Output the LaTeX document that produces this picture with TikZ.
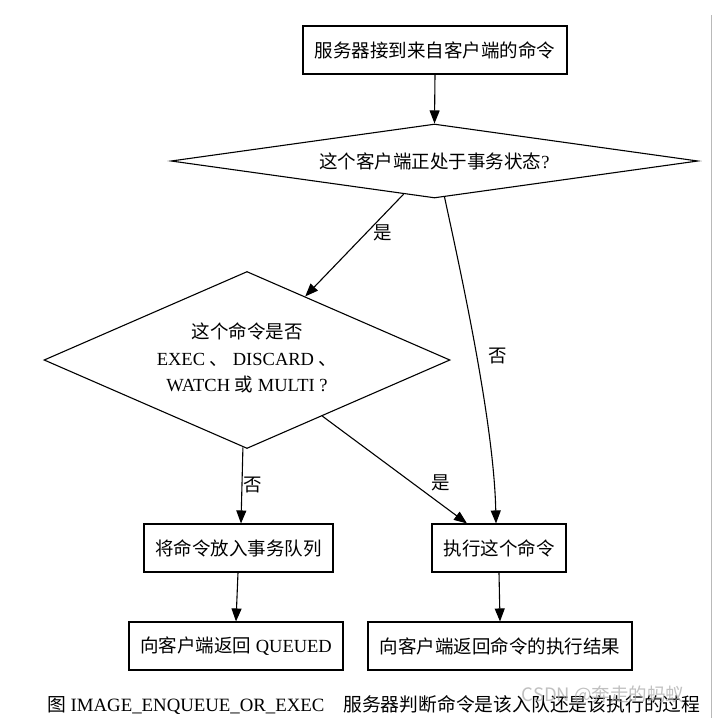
\documentclass[tikz,border=0pt]{standalone}
\usepackage{fontspec}
\setmainfont{Liberation Serif}
\newfontfamily\cjk{Noto Sans CJK SC}
\usetikzlibrary{arrows.meta,shapes.geometric,calc}
\begin{document}
\begin{tikzpicture}[x=1pt,y=-1pt,
  font=\fontsize{18.5}{26.5}\selectfont,
  box/.style={draw, line width=1.1pt, rectangle, inner sep=0pt, minimum height=48pt},
  dia/.style={draw, line width=1.1pt, diamond, inner sep=0pt},
  arr/.style={-{Triangle[length=13pt,width=10pt]}, line width=1.1pt},
  lbl/.style={font=\cjk\fontsize{18.5}{20}\selectfont, inner sep=0pt}]
\fill[white] (0,0) rectangle (713,718);
\useasboundingbox (0,0) rectangle (713,718);
\draw[gray!55, line width=1pt] (711,15) -- (711,718);

\node[box, minimum width=264pt] (start) at (435,50) {\cjk 服务器接到来自客户端的命令};
\node[dia, minimum width=527pt, minimum height=74pt] (d1) at (434.5,161)
  {\makebox[0pt]{{\cjk 这个客户端正处于事务状态}?}};
\node[dia, minimum width=406pt, minimum height=177pt] (d2) at (247,360)
  {\makebox[0pt]{\begin{tabular}{@{}c@{}}{\cjk 这个命令是否}\\ EXEC {\cjk 、} DISCARD {\cjk 、}\\ WATCH {\cjk 或} MULTI ?\end{tabular}}};
\node[box, minimum width=189pt] (q) at (238.5,548) {\cjk 将命令放入事务队列};
\node[box, minimum width=134pt] (e) at (499,548) {\cjk 执行这个命令};
\node[box, minimum width=214pt] (r1) at (236,646) {{\cjk 向客户端返回} QUEUED};
\node[box, minimum width=264pt] (r2) at (500,646) {\cjk 向客户端返回命令的执行结果};

\draw[arr] (start.south) -- (d1.north);
\draw[arr] ($(d1.south)!0.117!(d1.west)$) -- ($(d2.north)!0.286!(d2.east)$)
  node[lbl, pos=0.38, xshift=17pt] {是};
\draw[arr] ($(d1.south)!0.038!(d1.east)$) .. controls (458,260) and (494,420) .. ($(e.north)+(-3,0)$)
  node[lbl, pos=0.53, xshift=21pt] {否};
\draw[arr] ($(d2.south)!0.02!(d2.west)$) -- ($(q.north)+(2.5,0)$)
  node[lbl, midway, xshift=11pt] {否};
\draw[arr] ($(d2.south)!0.37!(d2.east)$) -- ($(e.north)+(-32,0)$)
  node[lbl, pos=0.62, xshift=29pt] {是};
\draw[arr] ($(q.south)+(-0.5,0)$) -- (r1.north);
\draw[arr] (e.south) -- (r2.north);

\node[anchor=base west, inner sep=0pt, font=\fontsize{18.8}{22}\selectfont] (cap) at (47,711)
  {{\cjk 图} IMAGE\_ENQUEUE\_OR\_EXEC{\cjk 　服务器判断命令是该入队还是该执行的过程}};
\node[text=gray!70, opacity=0.7, inner sep=0pt, font=\cjk\fontsize{18.5}{20}\selectfont] (wm) at (603,695) {CSDN @奔走的蚂蚁};
\end{tikzpicture}
\end{document}
